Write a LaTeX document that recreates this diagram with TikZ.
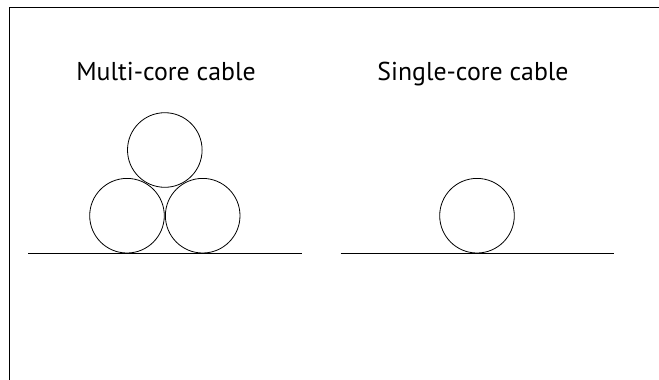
\documentclass[tikz,border=0pt]{standalone}
\usepackage{fontspec}
\setmainfont{PT Sans}

\begin{document}
\begin{tikzpicture}[x=1pt,y=-1pt,line width=0.8pt,core/.style={circle,draw,minimum size=74.6pt,inner sep=0pt},title/.style={font=\fontsize{25.8}{30}\selectfont,anchor=base}]

    \useasboundingbox (0,0) rectangle (659,380);

    % frame
    \draw (9,380) -- (9,7.5) -- (659,7.5);

    \node (multi) at (166,80) [title]{Multi-core cable};
    \node (single) at (473,80) [title]{Single-core cable};

    \node (c1) at (127,215.7) [core]{};
    \node (c2) at (202.7,215.7) [core]{};
    \node (c3) at (164.8,150) [core]{};

    \node (c4) at (477,215.7) [core]{};

    \coordinate (g1) at (28,253.3);
    \coordinate (g2) at (301.5,253.3);
    \coordinate (g3) at (340.5,253.3);
    \coordinate (g4) at (613.5,253.3);

    \draw (g1) -- (g2);
    \draw (g3) -- (g4);
\end{tikzpicture}
\end{document}
